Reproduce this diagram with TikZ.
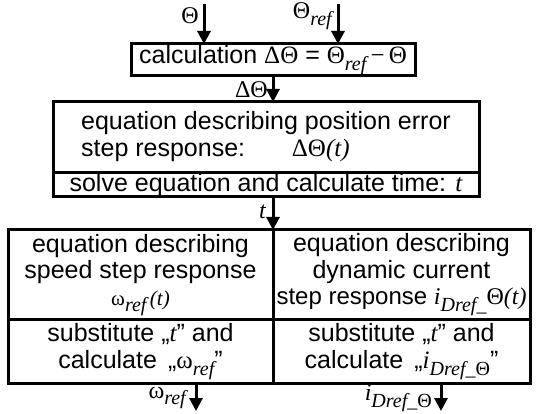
\documentclass[tikz,border=0pt]{standalone}
\usepackage{fontspec}
\setmainfont{Liberation Sans}
\newfontfamily\grk{Liberation Serif}
\usetikzlibrary{positioning,arrows.meta}
% greek / italic symbols in serif, lowered index
\newcommand{\gr}[1]{{\grk\upshape #1}}
\newcommand{\ix}[1]{{\grk\itshape #1}}
\newcommand{\lo}[1]{\raisebox{-0.55ex}{\fontsize{20}{20}\selectfont\grk\itshape #1}}

\begin{document}
\begin{tikzpicture}[
  x=1pt, y=-1pt,
  blk/.style={draw, line width=3pt, inner sep=0pt, outer sep=0pt, align=center,
              font=\fontsize{25}{26.5}\selectfont, minimum width=#1},
  blk/.default=426pt,
  seta/.style={-{Triangle[length=13pt, width=13pt]}, line width=3pt},
  lbl/.style={anchor=east, inner sep=0pt, font=\fontsize{24}{24}\selectfont},
]
\useasboundingbox (0,0) rectangle (536,414);

% ---- calculation of the position error
\node[blk=284pt, minimum height=32pt] (calc) at (273,60)
  {calculation \gr{ΔΘ} = \gr{Θ}\lo{ref}\,\gr{−\,Θ}};

% ---- position error equation and time
\node[blk, minimum height=71pt] (pos) at (266,137.5)
  {\begin{tabular}{@{}l@{}}equation describing position error\\
   step response: \hspace{1.5em}\gr{ΔΘ}\ix{(t)}\end{tabular}};
\node[blk, minimum height=24pt, below=0pt of pos] (solve)
  {solve equation and calculate time: \ix{t}};

% ---- speed and current branches
\node[blk=265pt, minimum height=90pt] (speq) at (140.5,275)
  {equation describing\\ speed step response\\
   {\fontsize{21}{21}\selectfont\gr{ω}\lo{ref}\,\ix{(t)}}};
\node[blk=257pt, minimum height=90pt, right=0pt of speq] (cureq)
  {equation describing\\ dynamic current\\
   {\fontsize{24}{24}\selectfont step response \ix{i}\lo{Dref\_}\gr{Θ}\ix{(t)}}};
\node[blk=265pt, minimum height=63pt, below=0pt of speq] (spsub)
  {substitute „\ix{t}” and\\ calculate \,„\gr{ω}\lo{ref}”};
\node[blk=257pt, minimum height=63pt, below=0pt of cureq] (cursub)
  {substitute „\ix{t}” and\\ calculate \,„\ix{i}\lo{Dref\_\gr{Θ}}”};

% ---- inputs
\coordinate (thin) at (204,4);
\coordinate (threfin) at (338,4);
\draw[seta] (thin) -- (thin |- calc.north);
\draw[seta] (threfin) -- (threfin |- calc.north);
\node[lbl] (thl) at (199,16) {\gr{Θ}};
\node[lbl] (threfl) at (332,16) {\gr{Θ}\lo{ref}};

% ---- inner connectors
\draw[seta] (calc.south) -- (calc.south |- pos.north);
\node[lbl] (dthl) at (268,90) {\gr{ΔΘ}};
\draw[seta] (solve.south -| speq.east) -- (speq.north east);
\node[lbl] (tl) at (266,212) {\ix{t}};

% ---- outputs
\coordinate (wout) at (196,411);
\coordinate (iout) at (441,411);
\draw[seta] (wout |- spsub.south) -- (wout);
\draw[seta] (iout |- cursub.south) -- (iout);
\node[lbl] (wl) at (186,398) {\gr{ω}\lo{ref}};
\node[lbl] (il) at (432,398) {\ix{i}\lo{Dref\_\gr{Θ}}};
\end{tikzpicture}
\end{document}
